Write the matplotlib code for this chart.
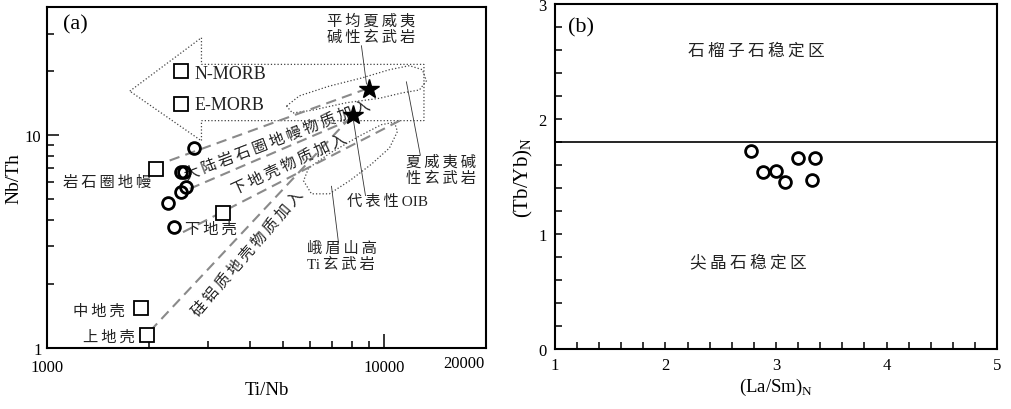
import matplotlib
matplotlib.use("Agg")
import matplotlib.pyplot as plt
import matplotlib.transforms as mtransforms
from matplotlib.ticker import FixedLocator, FixedFormatter, NullFormatter, MultipleLocator

plt.rcParams["font.family"] = ["Liberation Serif", "Noto Sans CJK SC", "DejaVu Sans"]
plt.rcParams["mathtext.fontset"] = "custom"
plt.rcParams["mathtext.rm"] = "Liberation Serif"
plt.rcParams["axes.unicode_minus"] = False

# ---------- (a) Nb/Th vs Ti/Nb ----------
sample_tinb = [2720, 2490, 2550, 2590, 2490, 2290, 2380]
sample_nbth = [8.7, 6.7, 6.7, 5.7, 5.4, 4.8, 3.7]

ref_names = ["N-MORB", "E-MORB", "岩石圈地幔", "下地壳", "中地壳", "上地壳"]
ref_tinb = [2500, 2500, 2100, 3320, 1900, 1980]
ref_nbth = [20.0, 14.0, 6.9, 4.3, 1.54, 1.15]

star_tinb = [8990, 8060]
star_nbth = [16.5, 12.5]

# dotted arrow (MORB direction)
arrow_tinb = [1760, 2870, 2870, 13100, 13100, 2870, 2870]
arrow_nbth = [16.1, 28.7, 21.5, 21.5, 11.7, 11.7, 9.4]

# Hawaiian alkaline basalt field
hawaii_tinb = [5130, 5600, 6870, 8610, 10350, 11860, 12960, 13320, 12700, 11300, 9670, 7720, 6120, 5340]
hawaii_nbth = [13.7, 15.3, 17.0, 18.6, 20.3, 21.2, 20.3, 18.0, 16.3, 15.8, 14.9, 14.2, 13.1, 12.7]

# Emeishan high-Ti basalt field
emei_tinb = [10710, 10930, 10350, 9150, 7880, 6870, 6080, 5760, 5960, 6870, 8430, 9800]
emei_nbth = [11.5, 10.4, 8.7, 7.3, 6.1, 5.3, 5.3, 6.1, 7.0, 8.2, 9.9, 11.2]

# mixing trends (start, end)
mix_tinb = [(2310, 8850), (2650, 8320), (2530, 11460), (2020, 8040)]
mix_nbth = [(7.6, 16.5), (5.6, 12.2), (3.5, 12.0), (1.2, 12.4)]

# leader lines (label -> field/point)
lead_tinb = [(8550, 8850), (11620, 12780), (8090, 8790), (6970, 7310)]
lead_nbth = [(26.3, 17.4), (17.8, 8.05), (11.8, 5.2), (5.75, 3.13)]

# ---------- (b) (Tb/Yb)N vs (La/Sm)N ----------
lasm = [2.77, 2.88, 3.00, 3.08, 3.20, 3.35, 3.33]
tbyb = [1.72, 1.54, 1.55, 1.45, 1.66, 1.66, 1.47]
garnet_spinel = 1.8


def spaced(s):
    lines = []
    for line in s.split("\n"):
        out = ""
        for i, ch in enumerate(line):
            if i > 0 and not (ch.isascii() and line[i - 1].isascii()):
                out += "\u2009"
            out += ch
        lines.append(out)
    return "\n".join(lines)


fig = plt.figure(figsize=(10.12, 4.10), dpi=100)
ax1 = fig.add_axes([0.0464, 0.1488, 0.4338, 0.8317])
ax2 = fig.add_axes([0.5484, 0.1463, 0.4368, 0.8415])

CN = 11
TXT = "#222222"

# ===== panel a =====
ax1.set_xscale("log")
ax1.set_yscale("log")
ax1.set_xlim(1000, 20000)
ax1.set_ylim(1, 40)

ax1.fill(arrow_tinb, arrow_nbth, fill=False, ls=":", lw=0.9, ec="#444444")
ax1.fill(hawaii_tinb, hawaii_nbth, fill=False, ls=":", lw=0.9, ec="#444444")
ax1.fill(emei_tinb, emei_nbth, fill=False, ls=":", lw=0.9, ec="#444444")

for xs, ys in zip(mix_tinb, mix_nbth):
    ax1.plot(xs, ys, color="#8a8a8a", lw=1.5, dashes=(5, 3), zorder=2)

for xs, ys in zip(lead_tinb, lead_nbth):
    ax1.plot(xs, ys, color="#333333", lw=0.6, zorder=2)

ax1.plot(ref_tinb, ref_nbth, ls="none", marker="s", ms=10, mfc="white",
         mec="black", mew=1.3, zorder=4)
ax1.plot(sample_tinb, sample_nbth, ls="none", marker="o", ms=8.5, mfc="none",
         mec="black", mew=2.0, zorder=4)
ax1.plot(star_tinb, star_nbth, ls="none", marker="*", ms=15, color="black", zorder=5)

ref_offsets = [(9.5, -2), (9.5, 0), (-3, -9), (-27, -11), (-11.5, -2), (-9, -1)]
ref_ha = ["left", "left", "right", "left", "right", "right"]
for name, x, y, off, ha in zip(ref_names, ref_tinb, ref_nbth, ref_offsets, ref_ha):
    fs = 13 if name.isascii() else CN
    ax1.annotate(spaced(name), (x, y), xytext=off, textcoords="offset points",
                 ha=ha, va="center", fontsize=fs, color=TXT)

ax1.text(9150, 31.6, spaced("平均夏威夷\n碱性玄武岩"), ha="center", va="center",
         fontsize=CN, linespacing=1.2, color=TXT)
ax1.text(11620, 6.88, spaced("夏威夷碱\n性玄武岩"), ha="left", va="center",
         fontsize=CN, linespacing=1.2, color=TXT)
ax1.text(7770, 4.94, spaced("代表性OIB"), ha="left", va="center",
         fontsize=CN, color=TXT)
ax1.text(5880, 2.70, spaced("峨眉山高\nTi玄武岩"), ha="left", va="center",
         fontsize=CN, linespacing=1.2, color=TXT)

ax1.text(4820, 9.57, spaced("大陆岩石圈地幔物质加入"), rotation=21,
         rotation_mode="anchor", ha="center", va="center", fontsize=CN, color=TXT)
ax1.text(5240, 7.38, spaced("下地壳物质加入"), rotation=25,
         rotation_mode="anchor", ha="center", va="center", fontsize=CN, color=TXT)
ax1.text(3930, 2.81, spaced("硅铝质地壳物质加入"), rotation=49,
         rotation_mode="anchor", ha="center", va="center", fontsize=CN, color=TXT)

ax1.text(0.036, 0.95, "(a)", transform=ax1.transAxes, fontsize=16, va="center", ha="left")

ax1.xaxis.set_major_locator(FixedLocator([1000, 10000, 20000]))
ax1.xaxis.set_major_formatter(FixedFormatter(["1000", "10000", "20000"]))
ax1.xaxis.set_minor_locator(FixedLocator([2000, 3000, 4000, 5000, 6000, 7000, 8000, 9000]))
ax1.xaxis.set_minor_formatter(NullFormatter())
ax1.yaxis.set_major_locator(FixedLocator([1, 10]))
ax1.yaxis.set_major_formatter(FixedFormatter(["1", "10"]))
ax1.yaxis.set_minor_locator(FixedLocator([2, 3, 4, 5, 6, 7, 8, 9, 20, 30]))
ax1.yaxis.set_minor_formatter(NullFormatter())

ax1.tick_params(axis="x", which="major", direction="in", length=10, width=1.1,
                labelsize=12, pad=8, top=False)
ax1.tick_params(axis="x", which="minor", direction="in", length=5, width=1.1, top=False)
ax1.tick_params(axis="y", which="major", direction="in", length=8.5, width=1.1,
                labelsize=12, pad=4, right=False)
ax1.tick_params(axis="y", which="minor", direction="in", length=5, width=1.1, right=False)

ax1.set_xlabel("Ti/Nb", fontsize=13.5, labelpad=4)
ax1.set_ylabel("Nb/Th", fontsize=14, labelpad=2)

offset = mtransforms.ScaledTranslation(-16 / 72, 3 / 72, fig.dpi_scale_trans)
lab = ax1.xaxis.get_major_ticks()[2].label1
lab.set_transform(lab.get_transform() + offset)

# ===== panel b =====
ax2.set_xlim(1, 5)
ax2.set_ylim(0, 3)
ax2.axhline(garnet_spinel, color="black", lw=1.2)
ax2.plot(lasm, tbyb, ls="none", marker="o", ms=8.5, mfc="none", mec="black", mew=2.0)

ax2.text(2.82, 2.59, spaced("石榴子石稳定区"), ha="center", va="center", fontsize=12,
         color=TXT)
ax2.text(2.75, 0.754, spaced("尖晶石稳定区"), ha="center", va="center", fontsize=12,
         color=TXT)
ax2.text(0.029, 0.933, "(b)", transform=ax2.transAxes, fontsize=16, va="center", ha="left")

ax2.xaxis.set_major_locator(MultipleLocator(1))
ax2.xaxis.set_minor_locator(MultipleLocator(0.2))
ax2.yaxis.set_major_locator(MultipleLocator(1))
ax2.yaxis.set_minor_locator(MultipleLocator(0.2))
ax2.tick_params(which="both", direction="in", length=5, width=1.1, top=False, right=False)
ax2.tick_params(axis="x", labelsize=12, pad=6)
ax2.tick_params(axis="y", labelsize=12, pad=6)

ax2.set_xlabel("(La/Sm)$_\\mathrm{N}$", fontsize=13.5, labelpad=2)
ax2.set_ylabel("(Tb/Yb)$_\\mathrm{N}$", fontsize=15, labelpad=2)

for ax in (ax1, ax2):
    for sp in ax.spines.values():
        sp.set_linewidth(1.5)

fig.savefig("out.png", dpi=100)
